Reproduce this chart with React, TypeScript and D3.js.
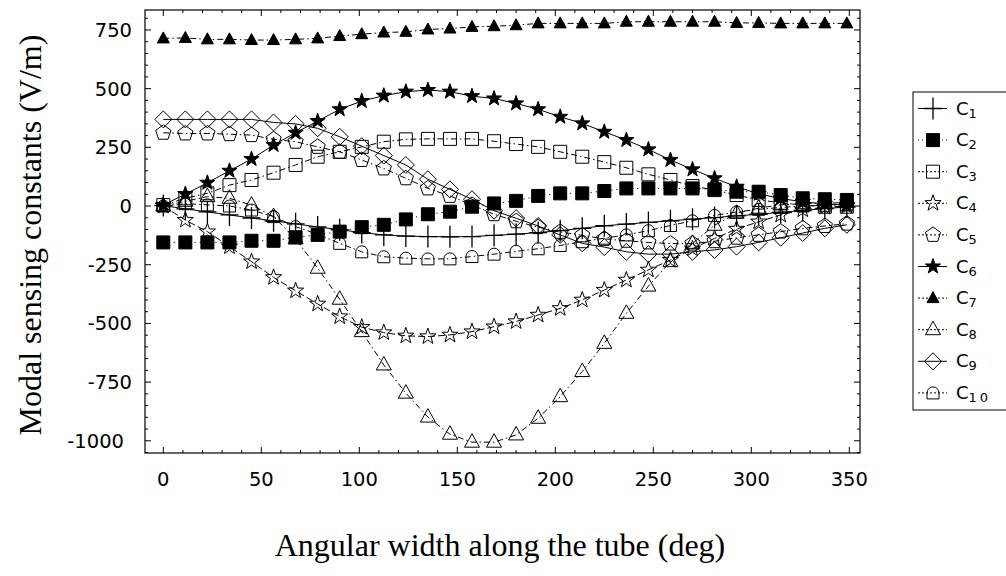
import React from "react";
import * as d3 from "d3";

// angular positions along the tube (deg)
const ANGLES = [0, 11.25, 22.5, 33.75, 45, 56.25, 67.5, 78.75, 90, 101.25, 112.5, 123.75, 135, 146.25, 157.5, 168.75,
  180, 191.25, 202.5, 213.75, 225, 236.25, 247.5, 258.75, 270, 281.25, 292.5, 303.75, 315, 326.25, 337.5, 348.75];

const C1 = [2, -12, -25, -38, -51, -63, -76, -89, -101, -113, -123, -128, -130, -131, -130, -125,
  -120, -113, -105, -95, -84, -77, -70, -63, -56, -49, -42, -35, -27, -19, -11, -4];
const C2 = [-155, -155, -155, -155, -148, -148, -133, -123, -109, -90, -80, -57, -35, -24, -3, 11,
  22, 43, 54, 54, 64, 75, 75, 75, 75, 71, 61, 61, 47, 33, 29, 26];
const C3 = [4, 33, 54, 89, 111, 142, 175, 210, 231, 252, 274, 284, 286, 286, 286, 276,
  264, 252, 231, 210, 187, 163, 135, 111, 85, 68, 47, 26, 14, 4, -3, -3];
const C4 = [0, -60, -109, -173, -237, -304, -361, -417, -471, -516, -539, -553, -556, -549, -535, -514,
  -492, -464, -436, -400, -358, -315, -272, -230, -182, -138, -98, -67, -38, -16, -5, 0];
const C5 = [312, 309, 309, 306, 302, 284, 274, 252, 231, 196, 160, 118, 75, 43, 5, -35,
  -65, -90, -110, -125, -140, -148, -155, -160, -160, -150, -135, -123, -109, -95, -85, -75];
const C6 = [4, 51, 99, 150, 200, 260, 312, 362, 412, 447, 470, 487, 494, 487, 468, 458,
  437, 412, 380, 352, 316, 281, 241, 196, 156, 118, 82, 52, 32, 18, 9, 4];
const C7 = [714, 716, 710, 710, 707, 707, 710, 714, 724, 732, 739, 742, 752, 756, 763, 766,
  770, 778, 778, 778, 778, 785, 785, 785, 785, 785, 780, 780, 778, 778, 778, 778];
const C8 = [0, 20, 40, 33, 4, -45, -140, -265, -397, -535, -677, -797, -899, -972, -1006, -1006,
  -975, -904, -812, -705, -585, -457, -341, -237, -159, -82, -31, -9, 5, 10, 12, 15];
const C9 = [369, 369, 369, 369, 369, 356, 350, 331, 295, 255, 215, 175, 114, 71, 29, -20,
  -52, -85, -123, -159, -175, -195, -205, -205, -195, -187, -173, -155, -135, -115, -95, -80];
const C10 = [0, 10, 5, 0, -17, -45, -88, -120, -159, -195, -216, -222, -225, -225, -215, -205,
  -193, -182, -168, -152, -137, -123, -105, -83, -63, -40, -25, -14, -6, 0, 3, 5];

const X_TICKS = [0, 50, 100, 150, 200, 250, 300, 350];
const Y_TICKS = [-1000, -750, -500, -250, 0, 250, 500, 750];

const DOT = "1.2,4";
const DASHDOT = "6,3,1.5,3";
const DASH = "7,3";

const SERIES = [
  { id: "1", values: C1, marker: "plus", dash: null },
  { id: "2", values: C2, marker: "squareFill", dash: DOT },
  { id: "3", values: C3, marker: "square", dash: DASHDOT },
  { id: "4", values: C4, marker: "star", dash: DASH },
  { id: "5", values: C5, marker: "pentagon", dash: DASHDOT },
  { id: "6", values: C6, marker: "starFill", dash: null },
  { id: "7", values: C7, marker: "triangleFill", dash: DASHDOT },
  { id: "8", values: C8, marker: "triangle", dash: DASHDOT },
  { id: "9", values: C9, marker: "diamond", dash: null },
  { id: "10", values: C10, marker: "house", dash: DASHDOT },
];

const W = 1006, H = 576;
const PL = 145, PR = 860, PT = 10, PB = 453;

function starPath(R: number) {
  const pts: string[] = [];
  for (let k = 0; k < 10; k++) {
    const r = k % 2 === 0 ? R : R * 0.4;
    const a = -Math.PI / 2 + k * Math.PI / 5;
    pts.push(`${(r * Math.cos(a)).toFixed(2)},${(r * Math.sin(a)).toFixed(2)}`);
  }
  return "M" + pts.join("L") + "Z";
}

function polyPath(n: number, R: number) {
  const pts: string[] = [];
  for (let k = 0; k < n; k++) {
    const a = -Math.PI / 2 + k * 2 * Math.PI / n;
    pts.push(`${(R * Math.cos(a)).toFixed(2)},${(R * Math.sin(a)).toFixed(2)}`);
  }
  return "M" + pts.join("L") + "Z";
}

function markerPath(type: string) {
  switch (type) {
    case "plus": return "M0,-11V11M-9,0H9";
    case "squareFill": return "M-6.5,-6.5H6.5V6.5H-6.5Z";
    case "square": return "M-6.5,-6.5H6.5V6.5H-6.5Z";
    case "star": return starPath(8.5);
    case "starFill": return starPath(8);
    case "pentagon": return polyPath(5, 8);
    case "triangleFill": return "M0,-6.5L6,4.5L-6,4.5Z";
    case "triangle": return "M0,-8.5L7.5,5L-7.5,5Z";
    case "diamond": return "M0,-8.5L8.5,0L0,8.5L-8.5,0Z";
    case "house": return "M-6,6V0A6,6 0 0 1 6,0V6Z";
  }
  return "";
}

function isFilled(type: string) {
  return type === "squareFill" || type === "starFill" || type === "triangleFill";
}

function Marker({ type, x, y }: { type: string; x: number; y: number }) {
  const filled = isFilled(type);
  return (
    <path d={markerPath(type)} transform={`translate(${x},${y})`}
      fill={filled ? "#000" : "none"} stroke="#000" strokeWidth={type === "plus" ? 1.3 : 1} />
  );
}

export default function App() {
  const x = d3.scaleLinear().domain([-9.34, 355.46]).range([PL, PR]);
  const y = d3.scaleLinear().domain([-1052, 835]).range([PB, PT]);

  const line = d3.line<number>().x((_, i) => x(ANGLES[i])).y(d => y(d));

  const xMinor = d3.range(0, 351, 10).filter(v => v % 50 !== 0);
  const yMinor = d3.range(-1050, 801, 50).filter(v => v % 250 !== 0);

  const tickFont = "'DejaVu Sans', sans-serif";
  const serif = "'Liberation Serif', 'Times New Roman', serif";

  const legendTop = 108.5, legendStep = 31.6;

  return (
    <svg width={W} height={H} style={{ position: "absolute", left: 0, top: 0, background: "#fff" }}>
      <rect x={0} y={0} width={W} height={H} fill="#fff" />
      {/* series lines */}
      {SERIES.map(s => (
        <path key={"l" + s.id} d={line(s.values) || ""} fill="none" stroke="#000" strokeWidth={1}
          strokeDasharray={s.dash || undefined} />
      ))}
      {/* markers */}
      {SERIES.map(s => (
        <g key={"m" + s.id}>
          {s.values.map((v, i) => <Marker key={i} type={s.marker} x={x(ANGLES[i])} y={y(v)} />)}
        </g>
      ))}

      {/* frame */}
      <rect x={PL} y={PT} width={PR - PL} height={PB - PT} fill="none" stroke="#000" strokeWidth={1.2} />

      {/* x ticks */}
      {X_TICKS.map(t => (
        <g key={"xt" + t}>
          <line x1={x(t)} x2={x(t)} y1={PB} y2={PB - 6} stroke="#000" />
          <line x1={x(t)} x2={x(t)} y1={PT} y2={PT + 6} stroke="#000" />
          <text x={x(t)} y={486} textAnchor="middle" fontFamily={tickFont} fontSize={19.5}>{t}</text>
        </g>
      ))}
      {xMinor.map(t => (
        <g key={"xm" + t}>
          <line x1={x(t)} x2={x(t)} y1={PB} y2={PB - 3} stroke="#000" />
          <line x1={x(t)} x2={x(t)} y1={PT} y2={PT + 3} stroke="#000" />
        </g>
      ))}

      {/* y ticks */}
      {Y_TICKS.map(t => (
        <g key={"yt" + t}>
          <line x1={PL} x2={PL + 6} y1={y(t)} y2={y(t)} stroke="#000" />
          <line x1={PR} x2={PR - 6} y1={y(t)} y2={y(t)} stroke="#000" />
          <text x={t === -1000 ? 124 : 132} y={y(t)} dy="0.36em" textAnchor="end" fontFamily={tickFont} fontSize={19.5}>
            {t < 0 ? "-" + Math.abs(t) : t}
          </text>
        </g>
      ))}
      {yMinor.map(t => (
        <g key={"ym" + t}>
          <line x1={PL} x2={PL + 3} y1={y(t)} y2={y(t)} stroke="#000" />
          <line x1={PR} x2={PR - 3} y1={y(t)} y2={y(t)} stroke="#000" />
        </g>
      ))}

      {/* axis titles */}
      <text x={500} y={556} textAnchor="middle" fontFamily={serif} fontSize={32}>
        Angular width along the tube (deg)
      </text>
      <text transform={`translate(41,235) rotate(-90)`} textAnchor="middle" fontFamily={serif} fontSize={32}>
        Modal sensing constants (V/m)
      </text>

      {/* legend */}
      <rect x={913} y={92} width={100} height={318} fill="none" stroke="#000" strokeWidth={1} />
      {SERIES.map((s, i) => {
        const ly = legendTop + i * legendStep;
        return (
          <g key={"lg" + s.id}>
            <line x1={918} x2={947} y1={ly} y2={ly} stroke="#000" strokeWidth={1}
              strokeDasharray={s.dash ? (s.dash === DOT ? "1,3" : "2,2") : undefined} />
            <Marker type={s.marker} x={933} y={ly} />
            <text x={956} y={ly + 6} fontFamily={tickFont} fontSize={18}>
              C<tspan fontSize={13} dy={3} letterSpacing={s.id === "10" ? 3 : 0}>{s.id}</tspan>
            </text>
          </g>
        );
      })}
    </svg>
  );
}
